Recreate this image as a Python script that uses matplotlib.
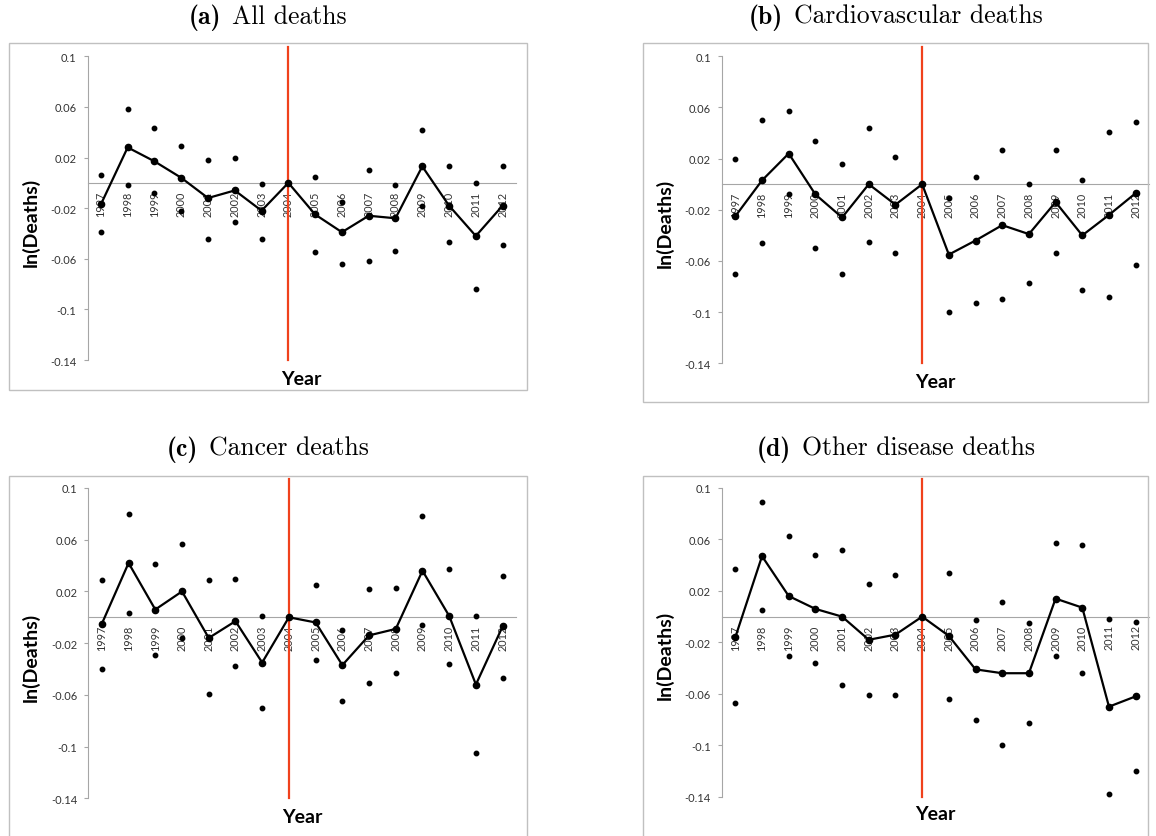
import numpy as np
import matplotlib
matplotlib.use('Agg')
import matplotlib.pyplot as plt
from matplotlib.patches import Rectangle

plt.rcParams['font.family'] = ['Lato', 'DejaVu Sans']
plt.rcParams['axes.unicode_minus'] = False

# data: estimate (line) and upper / lower dots per year, 2004 is the reference year
years = [str(y) for y in range(1997, 2013)]
yticks = [0.1, 0.06, 0.02, -0.02, -0.06, -0.1, -0.14]
ytick_labels = ['0.1', '0.06', '0.02', '-0.02', '-0.06', '-0.1', '-0.14']
tags = ['(a)', '(b)', '(c)', '(d)']
titles = ['All deaths', 'Cardiovascular deaths', 'Cancer deaths', 'Other disease deaths']
nan = np.nan

all_est = [-0.017, 0.028, 0.017, 0.004, -0.012, -0.006, -0.022, 0, -0.025, -0.039, -0.026, -0.028, 0.013, -0.018, -0.042, -0.018]
all_hi = [0.006, 0.058, 0.043, 0.029, 0.018, 0.020, -0.001, nan, 0.005, -0.015, 0.010, -0.002, 0.042, 0.013, 0.000, 0.013]
all_lo = [-0.039, -0.002, -0.008, -0.022, -0.044, -0.031, -0.044, nan, -0.055, -0.064, -0.062, -0.054, -0.018, -0.047, -0.084, -0.049]

cvd_est = [-0.025, 0.003, 0.024, -0.008, -0.026, 0.000, -0.016, 0, -0.055, -0.044, -0.032, -0.039, -0.014, -0.040, -0.024, -0.007]
cvd_hi = [0.020, 0.050, 0.057, 0.034, 0.016, 0.044, 0.021, nan, -0.011, 0.006, 0.027, 0.000, 0.027, 0.003, 0.041, 0.049]
cvd_lo = [-0.070, -0.046, -0.008, -0.050, -0.070, -0.045, -0.054, nan, -0.100, -0.093, -0.090, -0.077, -0.054, -0.083, -0.088, -0.063]

can_est = [-0.005, 0.042, 0.006, 0.020, -0.016, -0.003, -0.035, 0, -0.004, -0.037, -0.014, -0.009, 0.036, 0.001, -0.052, -0.007]
can_hi = [0.029, 0.080, 0.041, 0.057, 0.029, 0.030, 0.001, nan, 0.025, -0.010, 0.022, 0.023, 0.078, 0.037, 0.001, 0.032]
can_lo = [-0.040, 0.003, -0.029, -0.016, -0.059, -0.038, -0.070, nan, -0.033, -0.065, -0.051, -0.043, -0.006, -0.036, -0.105, -0.047]

oth_est = [-0.016, 0.047, 0.016, 0.006, 0.000, -0.018, -0.014, 0, -0.015, -0.041, -0.044, -0.044, 0.014, 0.007, -0.070, -0.062]
oth_hi = [0.037, 0.089, 0.063, 0.048, 0.052, 0.025, 0.032, nan, 0.034, -0.003, 0.011, -0.005, 0.057, 0.056, -0.002, -0.004]
oth_lo = [-0.067, 0.005, -0.031, -0.036, -0.053, -0.061, -0.061, nan, -0.064, -0.080, -0.100, -0.083, -0.031, -0.044, -0.138, -0.120]

series = [(all_est, all_hi, all_lo), (cvd_est, cvd_hi, cvd_lo),
          (can_est, can_hi, can_lo), (oth_est, oth_hi, oth_lo)]

# layout in pixels: frame, axes (l, t, r, b), title centre/baseline, ylabel centre, "Year" baseline
W, H = 1156, 837
layout = [
    dict(frame=(9, 44, 527, 391), ax=(87.5, 57.3, 516, 361), title=(268, 24), ylab=(31, 222), year=385),
    dict(frame=(643, 44, 1148, 403), ax=(722, 57.3, 1149, 364.3), title=(895.5, 24), ylab=(665, 223), year=388),
    dict(frame=(9, 477, 527, 850), ax=(88.5, 489, 516, 799.3), title=(268, 456), ylab=(31, 657), year=823),
    dict(frame=(643, 477, 1148, 850), ax=(722, 489, 1149, 797.7), title=(895.5, 456), ylab=(665, 655), year=820),
]

def fx(x): return x / W
def fy(y): return 1 - y / H

fig = plt.figure(figsize=(W / 100, H / 100), dpi=100, facecolor='white')
renderer = fig.canvas.get_renderer()
x = np.arange(len(years))
gray = '#a6a6a6'

for (est, hi, lo), lay, tag, title in zip(series, layout, tags, titles):
    l, t, r, b = lay['frame']
    fig.add_artist(Rectangle((fx(l), fy(b)), fx(r - l), (b - t) / H, transform=fig.transFigure,
                             fill=False, edgecolor='#c0c0c0', lw=1.0))

    # LaTeX-like caption: bold tag + roman text, centred together
    cx, cy = lay['title']
    t1 = fig.text(0, fy(cy), tag, family='cmb10', fontsize=18.5, va='baseline')
    t2 = fig.text(0, fy(cy), title, family='cmr10', fontsize=18.5, va='baseline')
    w1 = t1.get_window_extent(renderer).width
    w2 = t2.get_window_extent(renderer).width
    gap = 11
    x0 = cx - (w1 + gap + w2) / 2
    t1.set_x(fx(x0))
    t2.set_x(fx(x0 + w1 + gap))

    l, t, r, b = lay['ax']
    ax = fig.add_axes([fx(l), fy(b), fx(r - l), (b - t) / H])
    ax.set_xlim(-0.5, len(years) - 0.5)
    ax.set_ylim(-0.14, 0.1)
    ax.patch.set_alpha(0)

    ax.plot(x, est, '-o', color='black', lw=1.6, ms=4.5, zorder=4)
    ax.plot(x, hi, 'o', color='black', ms=3.2, zorder=4)
    ax.plot(x, lo, 'o', color='black', ms=3.2, zorder=4)
    ax.axvline(years.index('2004'), ymin=0, ymax=1.03, color='#f0411c', lw=1.6, clip_on=False, zorder=3)

    for s in ['top', 'right']:
        ax.spines[s].set_visible(False)
    ax.spines['left'].set_color(gray)
    ax.spines['left'].set_linewidth(0.8)
    ax.spines['bottom'].set_position(('data', 0))
    ax.spines['bottom'].set_color(gray)
    ax.spines['bottom'].set_linewidth(0.8)

    ax.set_yticks(yticks, labels=ytick_labels)
    ax.tick_params(axis='y', length=3, width=0.8, color=gray, pad=5, labelsize=8, labelcolor='#333333')
    ax.set_xticks(x, labels=years, rotation=90)
    ax.tick_params(axis='x', length=0, pad=5.5, labelsize=7.8, labelcolor='#333333')

    fig.text(fx((l + r) / 2), fy(lay['year']), 'Year', ha='center', va='baseline',
             fontsize=14, fontweight='bold')
    fig.text(fx(lay['ylab'][0]), fy(lay['ylab'][1]), 'ln(Deaths)', rotation=90, ha='center', va='center',
             fontsize=14, fontweight='bold')

fig.savefig('out.png', dpi=100, facecolor='white')
